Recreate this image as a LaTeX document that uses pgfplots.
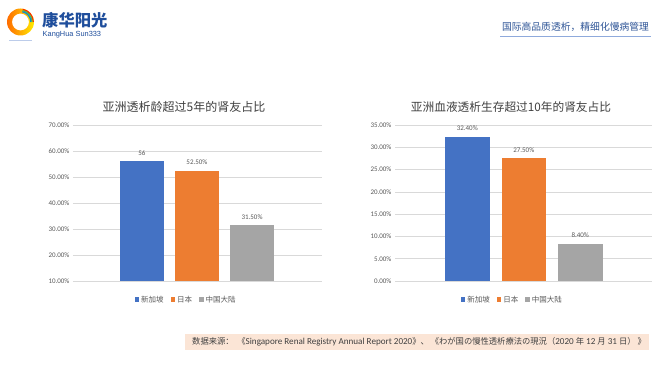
\documentclass[border=0pt]{standalone}
\usepackage{fontspec}
\setmainfont{Carlito}
\newfontfamily\cjk{Noto Sans CJK SC}
\newfontfamily\arial{Liberation Sans}
\usepackage{pgfplots}
\pgfplotsset{compat=1.18}
\definecolor{cblue}{HTML}{4472C4}
\definecolor{corange}{HTML}{ED7D31}
\definecolor{cgray}{HTML}{A5A5A5}
\definecolor{gridc}{HTML}{D9D9D9}
\definecolor{tickc}{HTML}{595959}
\definecolor{ttl}{HTML}{404040}
\definecolor{hdr}{HTML}{2F5597}
\definecolor{hline}{HTML}{8FAADC}
\definecolor{note}{HTML}{FBE5D6}
\definecolor{logo}{HTML}{1F4E9C}
\pgfplotsset{
 mybar/.style={
  scale only axis, height=156pt,
  ybar, bar shift=0pt,
  axis line style={draw=none},
  tick style={draw=none},
  xtick=\empty,
  ymajorgrids, grid style={gridc, line width=0.6pt},
  yticklabel style={font=\fontsize{7}{8}\selectfont, text=tickc},
  /pgf/number format/assume math mode=true,
  yticklabel={\pgfmathprintnumber[fixed,fixed zerofill,precision=2]{\tick}\%},
  nodes near coords, point meta=explicit symbolic,
  nodes near coords style={font=\fontsize{7}{8}\selectfont, text=tickc, yshift=2.5pt},
  legend style={draw=none, fill=none, font=\cjk\fontsize{7.5}{8}\selectfont, text=tickc, legend columns=-1, /tikz/every even column/.append style={column sep=5pt}},
  legend image code/.code={\fill[#1] (0pt,-2.2pt) rectangle (4.5pt,2.3pt);},
 }
}
\begin{document}
\begin{tikzpicture}
\path[use as bounding box, fill=white] (0,0) rectangle (667pt,375pt);
% logo
\shade[left color=orange!85!red, right color=yellow!85!orange, even odd rule] (20.5pt,353pt) circle (13.5pt) (20.5pt,353pt) circle (8.5pt);
\draw[red!70!orange, line width=1.2pt] (20.5pt,353pt) ++(0:12.8pt) arc (0:80:12.8pt);
\draw[green!60!black!70, line width=1.2pt] (20.5pt,353pt) ++(0:11.6pt) arc (0:80:11.6pt);
\draw[cyan!70!blue, line width=1.2pt] (20.5pt,353pt) ++(0:10.4pt) arc (0:80:10.4pt);
\fill[hline!60] (9pt,333.5pt) rectangle (32pt,334.5pt);
\node[anchor=west, inner sep=0pt, font=\cjk\bfseries\fontsize{16.3}{17}\selectfont, text=logo] at (42pt,355pt) {康华阳光};
\node[anchor=west, inner sep=0pt, font=\arial\fontsize{7.4}{8}\selectfont, text=logo] at (42.5pt,340.5pt) {KangHua Sun333};
% header
\node[inner sep=0pt, font=\cjk\fontsize{9.8}{10}\selectfont, text=hdr] at (575.5pt,348pt) {国际高品质透析，精细化慢病管理};
\draw[hline, line width=0.8pt] (500pt,339pt) -- (651pt,339pt);
% titles
\node[inner sep=0pt, font=\cjk\fontsize{12}{14}\selectfont, text=ttl] at (184pt,268pt) {亚洲透析龄超过5年的肾友占比};
\node[inner sep=0pt, font=\cjk\fontsize{11.7}{14}\selectfont, text=ttl] at (511pt,268pt) {亚洲血液透析生存超过10年的肾友占比};
% left chart
\begin{axis}[mybar, at={(73pt,94pt)}, anchor=south west, width=249pt,
  bar width=43.5pt, xmin=-1.25, xmax=3.27, ymin=10, ymax=70, ytick={10,20,...,70},
  legend style={at={(0.454,-0.068)}, anchor=north}]
\addplot[fill=cblue, draw=none] coordinates {(0,56) [56]};
\addplot[fill=corange, draw=none] coordinates {(1,52.5) [52.50\%]};
\addplot[fill=cgray, draw=none] coordinates {(2,31.5) [31.50\%]};
\legend{新加坡,日本,中国大陆}
\end{axis}
% right chart
\begin{axis}[mybar, at={(395pt,94pt)}, anchor=south west, width=257pt,
  bar width=44.5pt, xmin=-1.28, xmax=3.27, ymin=0, ymax=35, ytick={0,5,...,35},
  legend style={at={(0.457,-0.068)}, anchor=north}]
\addplot[fill=cblue, draw=none] coordinates {(0,32.4) [32.40\%]};
\addplot[fill=corange, draw=none] coordinates {(1,27.5) [27.50\%]};
\addplot[fill=cgray, draw=none] coordinates {(2,8.4) [8.40\%]};
\legend{新加坡,日本,中国大陆}
\end{axis}
% footnote
\fill[note] (185pt,25pt) rectangle (649pt,41pt);
\node[anchor=west, inner sep=0pt, text=ttl, font=\fontsize{9.1}{10}\selectfont] at (192pt,33pt) {{\cjk\fontsize{8.3}{10}\selectfont 数据来源：\ \ 《}Singapore Renal Registry Annual Report 2020{\cjk\fontsize{8.3}{10}\selectfont 》、\ 《わが国の慢性透析療法の現況（}2020 {\cjk\fontsize{8.3}{10}\selectfont 年} 12 {\cjk\fontsize{8.3}{10}\selectfont 月} 31 {\cjk\fontsize{8.3}{10}\selectfont 日）\ 》}};
\end{tikzpicture}
\end{document}
